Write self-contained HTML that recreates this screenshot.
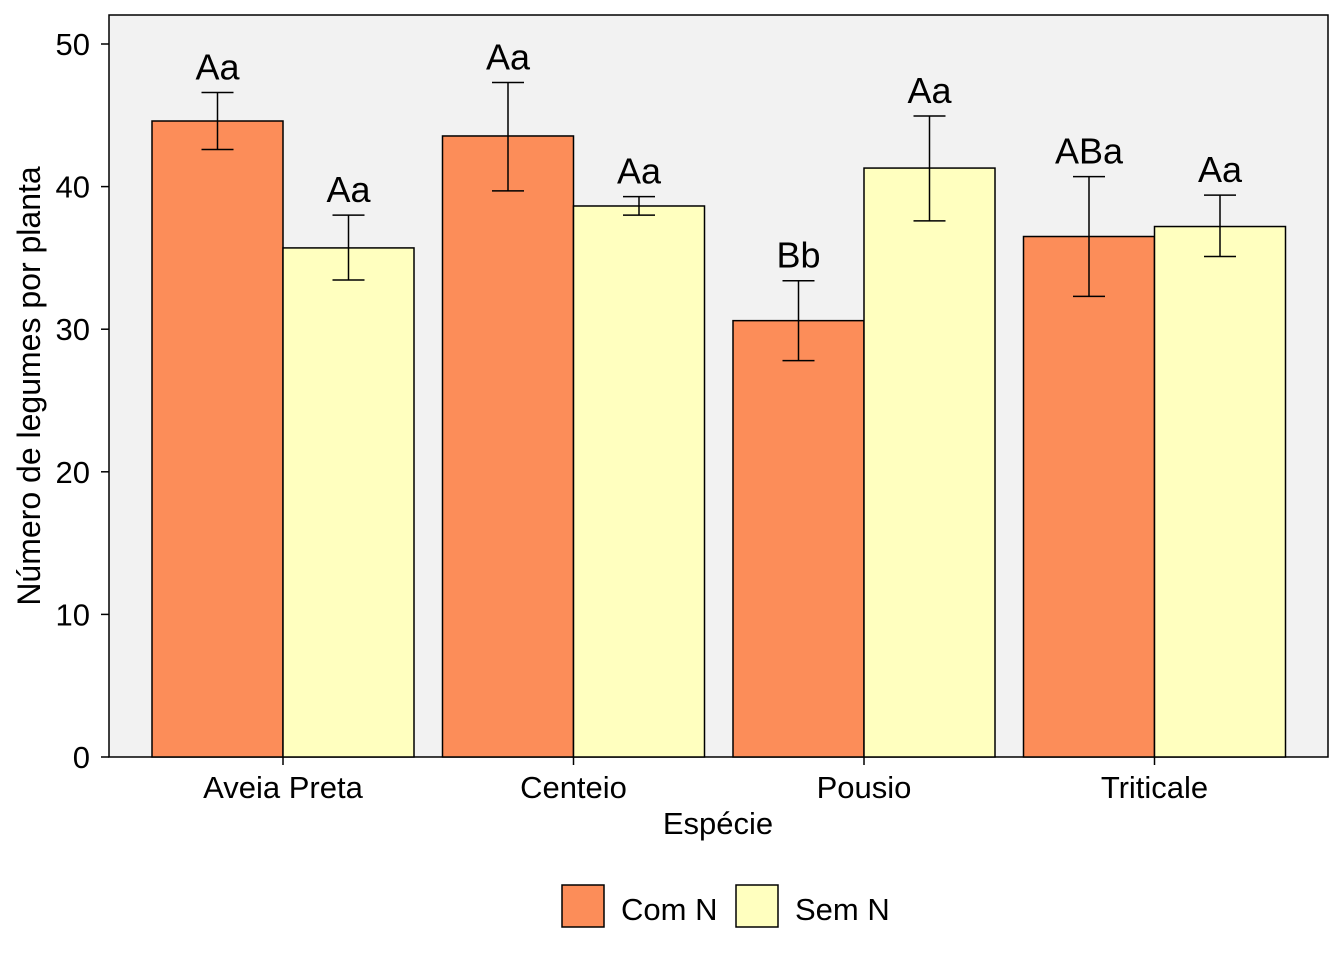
<!DOCTYPE html>
<html><head><meta charset="utf-8"><style>body{margin:0;background:#fff}svg{display:block;font-family:"Liberation Sans",Arial,sans-serif}</style></head>
<body>
<svg id="chart" width="1344" height="960">
<rect x="109" y="15" width="1219" height="742" fill="#f2f2f2" stroke="#000" stroke-width="1.5"/>
<g id="bars"></g>
<g id="axes"></g>
<text x="718" y="834" text-anchor="middle" font-size="31">Espécie</text>
<text transform="translate(40,386) rotate(-90)" text-anchor="middle" font-size="32">Número de legumes por planta</text>
<g>
<rect x="562" y="885" width="42" height="42" fill="#FC8D59" stroke="#000" stroke-width="1.5"/>
<text x="621" y="920" font-size="31">Com N</text>
<rect x="736" y="885" width="42" height="42" fill="#FFFFBF" stroke="#000" stroke-width="1.5"/>
<text x="795" y="920" font-size="31">Sem N</text>
</g>
</svg>
<script>
const categories=["Aveia Preta","Centeio","Pousio","Triticale"];
const comN=[44.6,43.55,30.6,36.5];
const semN=[35.7,38.64,41.3,37.2];
const comLo=[42.6,39.7,27.8,32.3];
const comHi=[46.6,47.3,33.4,40.7];
const semLo=[33.45,38.0,37.6,35.1];
const semHi=[38.0,39.3,44.95,39.4];
const comLabels=["Aa","Aa","Bb","ABa"];
const semLabels=["Aa","Aa","Aa","Aa"];
const yTicks=[0,10,20,30,40,50];
const NS="http://www.w3.org/2000/svg";
const y=v=>757-v*14.26;
const xc=i=>283+i*290.5;
const bw=131;
const bars=document.getElementById('bars'),axes=document.getElementById('axes');
function mk(tag,at,parent){const e=document.createElementNS(NS,tag);for(const k in at)e.setAttribute(k,at[k]);parent.appendChild(e);return e;}
categories.forEach((c,i)=>{
 [[comN,comLo,comHi,comLabels,-1,"#FC8D59","com-n"],[semN,semLo,semHi,semLabels,0,"#FFFFBF","sem-n"]].forEach(s=>{
  const x0=xc(i)+s[4]*bw;
  const r=mk('rect',{x:x0,y:y(s[0][i]),width:bw,height:y(0)-y(s[0][i]),fill:s[5],stroke:"#000","stroke-width":1.5},bars);
  
  
  const cx=x0+bw/2;
  const g=mk('g',{stroke:"#000","stroke-width":1.5},bars);
  
  
  mk('line',{x1:cx,x2:cx,y1:y(s[1][i]),y2:y(s[2][i])},g);
  mk('line',{x1:cx-16,x2:cx+16,y1:y(s[1][i]),y2:y(s[1][i])},g);
  mk('line',{x1:cx-16,x2:cx+16,y1:y(s[2][i]),y2:y(s[2][i])},g);
  const t=mk('text',{x:cx,y:y(s[2][i])-13,"text-anchor":"middle","font-size":36},bars);
  t.textContent=s[3][i];
  
  
 });
 mk('line',{x1:xc(i),x2:xc(i),y1:757,y2:765,stroke:"#000","stroke-width":1.5},axes);
 const t=mk('text',{x:xc(i),y:798,"text-anchor":"middle","font-size":31},axes);
 t.textContent=c;
 
 
});
yTicks.forEach(v=>{
 mk('line',{x1:101,x2:109,y1:y(v),y2:y(v),stroke:"#000","stroke-width":1.5},axes);
 const t=mk('text',{x:90,y:y(v)+11,"text-anchor":"end","font-size":31},axes);
 t.textContent=v;
 
 
});
</script>
</body></html>
